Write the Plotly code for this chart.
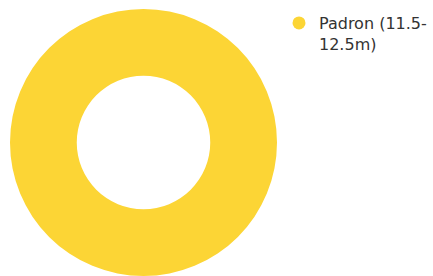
import plotly.graph_objects as go

labels = ["Padron (11.5-12.5m)"]
legend_labels = ["Padron (11.5-<br>12.5m)"]
values = [1]
colors = ["#FCD535"]

W, H = 433, 276

fig = go.Figure()
fig.add_trace(go.Pie(
    labels=labels, values=values, hole=0.5,
    marker=dict(colors=colors, line=dict(width=0)),
    textinfo="none", hoverinfo="label+percent", sort=False,
    showlegend=False,
    domain=dict(x=[10 / W, 277 / W], y=[0, 267 / H]),
))
fig.add_trace(go.Scatter(
    x=[None], y=[None], mode="markers", name=legend_labels[0],
    marker=dict(color=colors[0], size=13, symbol="circle"),
))
fig.update_layout(
    width=W, height=H,
    margin=dict(l=0, r=0, t=0, b=0),
    paper_bgcolor="white", plot_bgcolor="white",
    xaxis=dict(visible=False), yaxis=dict(visible=False),
    font=dict(family="DejaVu Sans", size=16, color="#333333"),
    legend=dict(x=279 / W, y=1 - 6 / H, xanchor="left", yanchor="top",
                valign="top", bgcolor="rgba(0,0,0,0)", font=dict(size=16)),
)
fig.write_html("out.html", config={"displayModeBar": False},
               post_script="document.body.style.margin='0';")
